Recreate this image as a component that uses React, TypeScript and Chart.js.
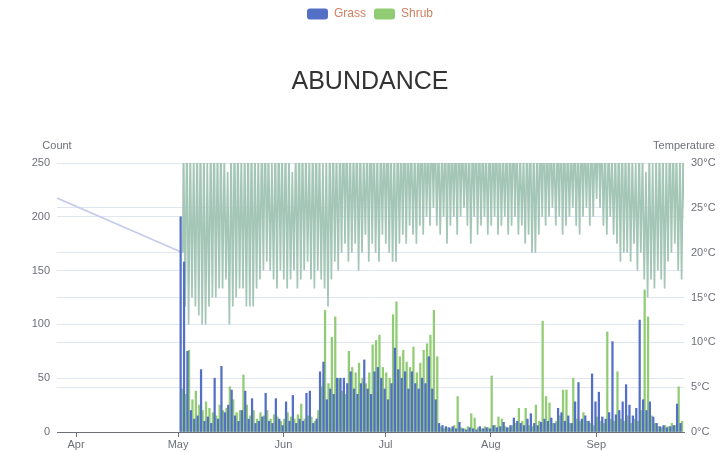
import React, { useEffect, useRef } from "react";
import { Chart, registerables } from "chart.js";

Chart.register(...registerables);

// x values are days counted from 1 April
const monthStarts = [0, 30, 61, 91, 122, 153];
const monthLabels = ["Apr", "May", "Jun", "Jul", "Aug", "Sep"];
const axisMinDay = -5.6;
const axisMaxDay = 178.8;
const firstDay = 31; // 2 May: first day of daily readings

const countTicks = { min: 0, max: 250, step: 50 };
const tempTicks = { min: 0, max: 30, step: 5 };

const grass = [
  200, 158, 75, 20, 12, 15, 58, 10, 14, 8,
  50, 12, 61, 18, 25, 39, 15, 10, 20, 38,
  12, 31, 8, 10, 14, 36, 10, 8, 31, 12,
  6, 28, 10, 34, 8, 12, 10, 36, 38, 8,
  12, 56, 65, 30, 40, 35, 50, 50, 50, 45,
  56, 40, 35, 45, 67, 40, 35, 56, 60, 50,
  40, 30, 45, 78, 58, 50, 56, 40, 56, 45,
  40, 50, 45, 70, 40, 30, 8, 6, 5, 4,
  5, 3, 9, 3, 2, 4, 3, 2, 5, 3,
  4, 3, 6, 4, 5, 9, 4, 6, 13, 10,
  8, 6, 12, 17, 8, 6, 9, 12, 10, 13,
  8, 22, 18, 10, 15, 8, 28, 46, 12, 15,
  10, 54, 28, 37, 14, 12, 18, 84, 16, 20,
  28, 44, 25, 15, 22, 104, 30, 20, 28, 14,
  8, 5, 6, 4, 5, 6, 26, 8,
];

const shrub = [
  40, 35, 76, 30, 38, 25, 20, 28, 22, 18,
  15, 25, 20, 22, 42, 30, 18, 20, 53, 25,
  15, 20, 12, 18, 15, 20, 12, 16, 14, 10,
  12, 18, 14, 12, 16, 26, 12, 15, 14, 10,
  20, 42, 113, 45, 88, 107, 50, 38, 35, 75,
  60, 55, 64, 50, 45, 55, 81, 85, 90, 60,
  55, 50, 109, 121, 70, 76, 65, 60, 79, 55,
  64, 76, 82, 90, 113, 70, 5, 3, 4, 3,
  6, 33, 4, 3, 5, 17, 13, 4, 3, 5,
  4, 52, 6, 14, 12, 5, 4, 6, 8, 22,
  10, 22, 6, 5, 25, 10, 103, 33, 27, 8,
  10, 15, 39, 39, 8, 50, 12, 10, 18, 10,
  8, 6, 14, 10, 8, 93, 12, 10, 56, 12,
  10, 15, 8, 12, 10, 20, 132, 107, 15, 8,
  5, 4, 6, 5, 8, 6, 42, 10,
];

const tempMin = [
  14, 12, 15, 14, 13, 12, 12, 14, 15, 15,
  16, 16, 17, 12, 14, 15, 16, 16, 14, 14,
  14, 16, 17, 18, 19, 18, 17, 16, 18, 17,
  16, 17, 18, 16, 17, 18, 19, 17, 16, 18,
  17, 16, 14, 17, 19, 18, 20, 21, 19, 20,
  21, 18, 20, 22, 19, 21, 20, 19, 22, 21,
  20, 19, 19, 21, 22, 21, 23, 22, 21, 23,
  22, 24, 23, 25, 23, 22, 24, 21, 23, 24,
  22, 24, 25, 23, 21, 24, 22, 23, 24, 22,
  23, 24, 22, 23, 24, 22, 23, 24, 22, 23,
  21, 22, 20, 20, 22, 24, 23, 24, 25, 23,
  24, 22, 23, 24, 25, 23, 22, 24, 25, 23,
  24, 26, 25, 23, 22, 24, 22, 21, 19, 20,
  20, 19, 21, 18, 20, 17, 15, 17, 16, 18,
  17, 16, 19, 20, 21, 18, 17, 22,
];

const tempMax = [
  33, 34, 32, 31, 33, 34, 32, 30, 33, 34,
  32, 33, 31, 29, 32, 34, 33, 31, 32, 33,
  34, 32, 31, 33, 35, 32, 30, 33, 34, 32,
  33, 31, 29, 32, 34, 33, 32, 31, 33, 34,
  32, 30, 31, 33, 34, 32, 33, 35, 34, 33,
  32, 34, 33, 31, 33, 35, 34, 32, 33, 34,
  35, 33, 32, 34, 33, 35, 34, 33, 32, 34,
  35, 34, 33, 35, 34, 33, 32, 34, 35, 33,
  34, 35, 33, 32, 34, 33, 35, 34, 33, 32,
  34, 33, 35, 34, 32, 33, 34, 35, 33, 32,
  31, 33, 34, 32, 33, 34, 35, 33, 34, 32,
  33, 35, 34, 33, 32, 34, 33, 35, 34, 33,
  34, 33, 35, 34, 32, 33, 31, 32, 33, 34,
  32, 33, 31, 30, 32, 31, 29, 32, 30, 31,
  33, 32, 31, 34, 33, 32, 31, 33,
];

// sparse readings before the daily logger started
const earlyTempDays = [-5.6, 31.4];
const earlyTemps = [26.1, 20];

const FONT = "'Liberation Sans', Arial, Helvetica, sans-serif";
const AXIS_COLOR = "#6e7079";
const GRID_COLOR = "#e0e6f1";

const axisNames = {
  id: "axisNames",
  afterDraw(chart: any) {
    const { ctx, chartArea } = chart;
    ctx.save();
    ctx.font = `11px ${FONT}`;
    ctx.fillStyle = AXIS_COLOR;
    ctx.textAlign = "center";
    ctx.textBaseline = "middle";
    ctx.fillText("Count", chartArea.left, chartArea.top - 17);
    ctx.fillText("Temperature", chartArea.right, chartArea.top - 17);
    ctx.restore();
  },
};

export default function App() {
  const ref = useRef<HTMLCanvasElement | null>(null);

  useEffect(() => {
    if (!ref.current) return;
    const grassData = grass.map((v, i) => ({ x: firstDay + i, y: v }));
    const shrubData = shrub.map((v, i) => ({ x: firstDay + i, y: v }));
    const tempData: { x: number; y: number }[] = earlyTempDays.map((d, i) => ({ x: d, y: earlyTemps[i] }));
    tempMax.forEach((mx, i) => {
      tempData.push({ x: firstDay + i + 0.6, y: mx });
      tempData.push({ x: firstDay + i + 1.1, y: tempMin[i] });
    });
    const lastEarly = earlyTempDays[earlyTempDays.length - 1];

    const chart = new Chart(ref.current, {
      type: "bar",
      data: {
        datasets: [
          {
            type: "bar",
            label: "Grass",
            data: grassData,
            backgroundColor: "#5470c6",
            borderWidth: 0,
            barThickness: 1.6,
            yAxisID: "y",
          },
          {
            type: "bar",
            label: "Shrub",
            data: shrubData,
            backgroundColor: "#91cc75",
            borderWidth: 0,
            barThickness: 1.6,
            yAxisID: "y",
          },
          {
            type: "line",
            label: "Temperature",
            data: tempData,
            borderColor: "#a4c6b6",
            borderWidth: 1.7,
            pointRadius: 0,
            tension: 0,
            yAxisID: "y1",
            segment: {
              borderColor: (c: any) => (c.p1.parsed.x <= lastEarly ? "#c6cbea" : "#a4c6b6"),
            },
          } as any,
        ],
      },
      options: {
        animation: false,
        responsive: false,
        layout: { padding: { left: 20, right: 0, top: 0, bottom: 0 } },
        plugins: {
          legend: {
            position: "top",
            weight: 3000,
            labels: {
              boxWidth: 21,
              boxHeight: 11,
              useBorderRadius: true,
              borderRadius: 3,
              padding: 8,
              color: "#cf7f62",
              font: { size: 12, family: FONT },
              filter: (item: any) => item.datasetIndex < 2,
            },
          },
          title: {
            display: true,
            text: "ABUNDANCE",
            color: "#333333",
            font: { size: 25, weight: "normal", family: FONT, lineHeight: 1.2 },
            padding: { top: 37, bottom: 66 },
          },
          tooltip: { enabled: false },
        },
        scales: {
          x: {
            type: "linear",
            offset: false,
            min: axisMinDay,
            max: axisMaxDay,
            afterBuildTicks: (s: any) => {
              s.ticks = monthStarts.map((v) => ({ value: v }));
            },
            ticks: {
              callback: (_v: any, i: number) => monthLabels[i],
              autoSkip: false,
              maxRotation: 0,
              color: AXIS_COLOR,
              font: { size: 11, family: FONT },
              padding: 1,
            },
            grid: { offset: false, drawOnChartArea: false, tickLength: 5, tickColor: AXIS_COLOR },
            border: { color: AXIS_COLOR, width: 1 },
            afterFit: (s: any) => {
              s.height = 20;
            },
          },
          y: {
            position: "left",
            min: countTicks.min,
            max: countTicks.max,
            ticks: { stepSize: countTicks.step, color: AXIS_COLOR, font: { size: 11, family: FONT }, padding: 7 },
            grid: { color: GRID_COLOR, drawTicks: false },
            border: { display: false },
            afterFit: (s: any) => {
              s.width = 37;
            },
          },
          y1: {
            position: "right",
            min: tempTicks.min,
            max: tempTicks.max,
            ticks: {
              stepSize: tempTicks.step,
              callback: (v: any) => `${v}°C`,
              color: AXIS_COLOR,
              font: { size: 11, family: FONT },
              padding: 7,
            },
            grid: { color: GRID_COLOR, drawTicks: false },
            border: { display: false },
            afterFit: (s: any) => {
              s.width = 36;
            },
          },
        },
      } as any,
      plugins: [axisNames],
    });
    return () => chart.destroy();
  }, []);

  return (
    <div style={{ position: "absolute", left: 0, top: 0, width: 720, height: 452, background: "#fff" }}>
      <canvas ref={ref} width={720} height={452} style={{ display: "block" }} />
    </div>
  );
}
